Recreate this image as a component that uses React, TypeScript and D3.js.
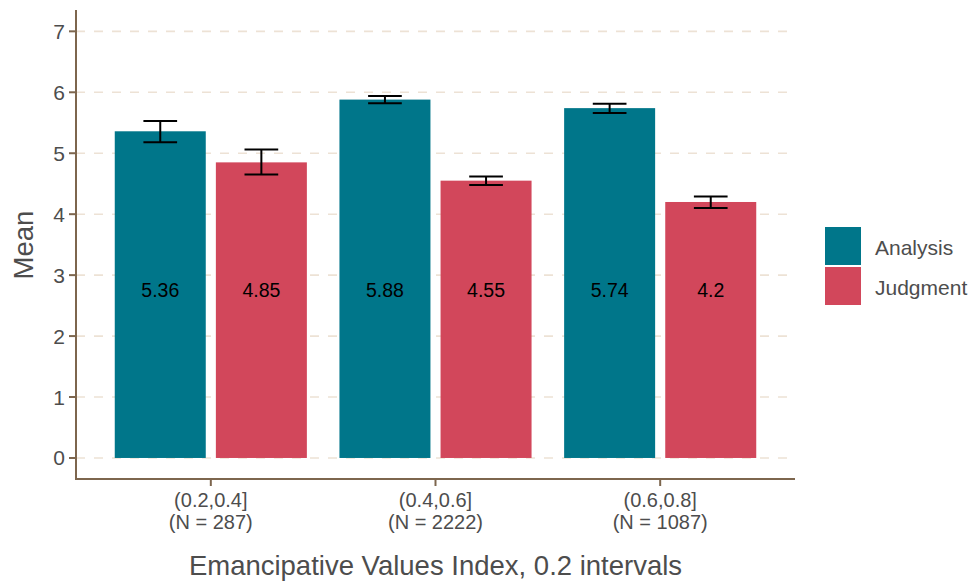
import * as d3 from "d3";

const GROUPS = ["(0.2,0.4]", "(0.4,0.6]", "(0.6,0.8]"];
const GROUP_N = ["(N = 287)", "(N = 2222)", "(N = 1087)"];
const SERIES = ["Analysis", "Judgment"];
const MEANS = [
  [5.36, 4.85],
  [5.88, 4.55],
  [5.74, 4.2],
];
const LOWER = [
  [5.18, 4.65],
  [5.82, 4.48],
  [5.66, 4.1],
];
const UPPER = [
  [5.53, 5.06],
  [5.94, 4.62],
  [5.81, 4.29],
];
const LABELS = ["5.36", "4.85", "5.88", "4.55", "5.74", "4.2"];
const Y_TICKS = [0, 1, 2, 3, 4, 5, 6, 7];
const COLORS = ["#00768A", "#D2475B"];

const W = 971;
const H = 583;
const left = 76;
const right = 795;
const top = 10;
const bottom = 479;

export default function App() {
  const x = d3.scaleLinear().domain([0.4, 3.6]).range([left, right]);
  const y = d3.scaleLinear().domain([-0.345, 7.35]).range([bottom, top]);
  const color = d3.scaleOrdinal<string>().domain(SERIES).range(COLORS);
  const dodge = 0.225;
  const barW = 0.405;
  const errW = 0.15;
  const font = "'Liberation Sans', Arial, sans-serif";
  const unit = x(1) - x(0);

  return (
    <svg
      width={W}
      height={H}
      style={{ position: "absolute", left: 0, top: 0, fontFamily: font }}
    >
      <rect width={W} height={H} fill="#fff" />
      {Y_TICKS.map((t) => (
        <line
          key={t}
          x1={left}
          x2={right}
          y1={y(t)}
          y2={y(t)}
          stroke="#EDE2D5"
          strokeWidth={1.6}
          strokeDasharray="9 9"
        />
      ))}
      {GROUPS.map((g, gi) =>
        SERIES.map((s, si) => {
          const cx = x(gi + 1) + (si === 0 ? -dodge : dodge) * unit;
          const m = MEANS[gi][si];
          return (
            <g key={g + s}>
              <rect
                x={cx - (barW * unit) / 2}
                width={barW * unit}
                y={y(m)}
                height={y(0) - y(m)}
                fill={color(s)}
              />
              <g stroke="#000" strokeWidth={2}>
                <line x1={cx} x2={cx} y1={y(LOWER[gi][si])} y2={y(UPPER[gi][si])} />
                <line
                  x1={cx - (errW * unit) / 2}
                  x2={cx + (errW * unit) / 2}
                  y1={y(LOWER[gi][si])}
                  y2={y(LOWER[gi][si])}
                />
                <line
                  x1={cx - (errW * unit) / 2}
                  x2={cx + (errW * unit) / 2}
                  y1={y(UPPER[gi][si])}
                  y2={y(UPPER[gi][si])}
                />
              </g>
              <text
                x={cx}
                y={y(2.76)}
                textAnchor="middle"
                dominantBaseline="central"
                fontSize={19.5}
                fill="#000"
              >
                {LABELS[gi * 2 + si]}
              </text>
            </g>
          );
        })
      )}
      {/* axes */}
      <line x1={left} x2={left} y1={top} y2={bottom + 1} stroke="#7D664E" strokeWidth={2} />
      <line x1={left - 1} x2={right} y1={bottom} y2={bottom} stroke="#7D664E" strokeWidth={2} />
      {Y_TICKS.map((t) => (
        <g key={t}>
          <line x1={left - 7} x2={left} y1={y(t)} y2={y(t)} stroke="#7D664E" strokeWidth={2} />
          <text
            x={left - 11}
            y={y(t)}
            textAnchor="end"
            dominantBaseline="central"
            fontSize={21}
            fill="#4D4D4D"
          >
            {t}
          </text>
        </g>
      ))}
      {GROUPS.map((g, gi) => (
        <g key={g}>
          <line
            x1={x(gi + 1)}
            x2={x(gi + 1)}
            y1={bottom}
            y2={bottom + 7}
            stroke="#7D664E"
            strokeWidth={2}
          />
          <text x={x(gi + 1)} y={507} textAnchor="middle" fontSize={20} fill="#4D4D4D">
            {g}
          </text>
          <text x={x(gi + 1)} y={529} textAnchor="middle" fontSize={20} fill="#4D4D4D">
            {GROUP_N[gi]}
          </text>
        </g>
      ))}
      <text
        x={(left + right) / 2}
        y={575}
        textAnchor="middle"
        fontSize={27.5}
        fill="#4D4D4D"
      >
        Emancipative Values Index, 0.2 intervals
      </text>
      <text
        transform={`translate(33,${245}) rotate(-90)`}
        textAnchor="middle"
        fontSize={27.5}
        fill="#4D4D4D"
      >
        Mean
      </text>
      {/* legend */}
      {SERIES.map((s, i) => (
        <g key={s} transform={`translate(825,${227 + i * 40})`}>
          <rect width={36} height={38} fill={color(s)} />
          <text x={50} y={20} dominantBaseline="central" fontSize={21} fill="#4D4D4D">
            {s}
          </text>
        </g>
      ))}
    </svg>
  );
}
